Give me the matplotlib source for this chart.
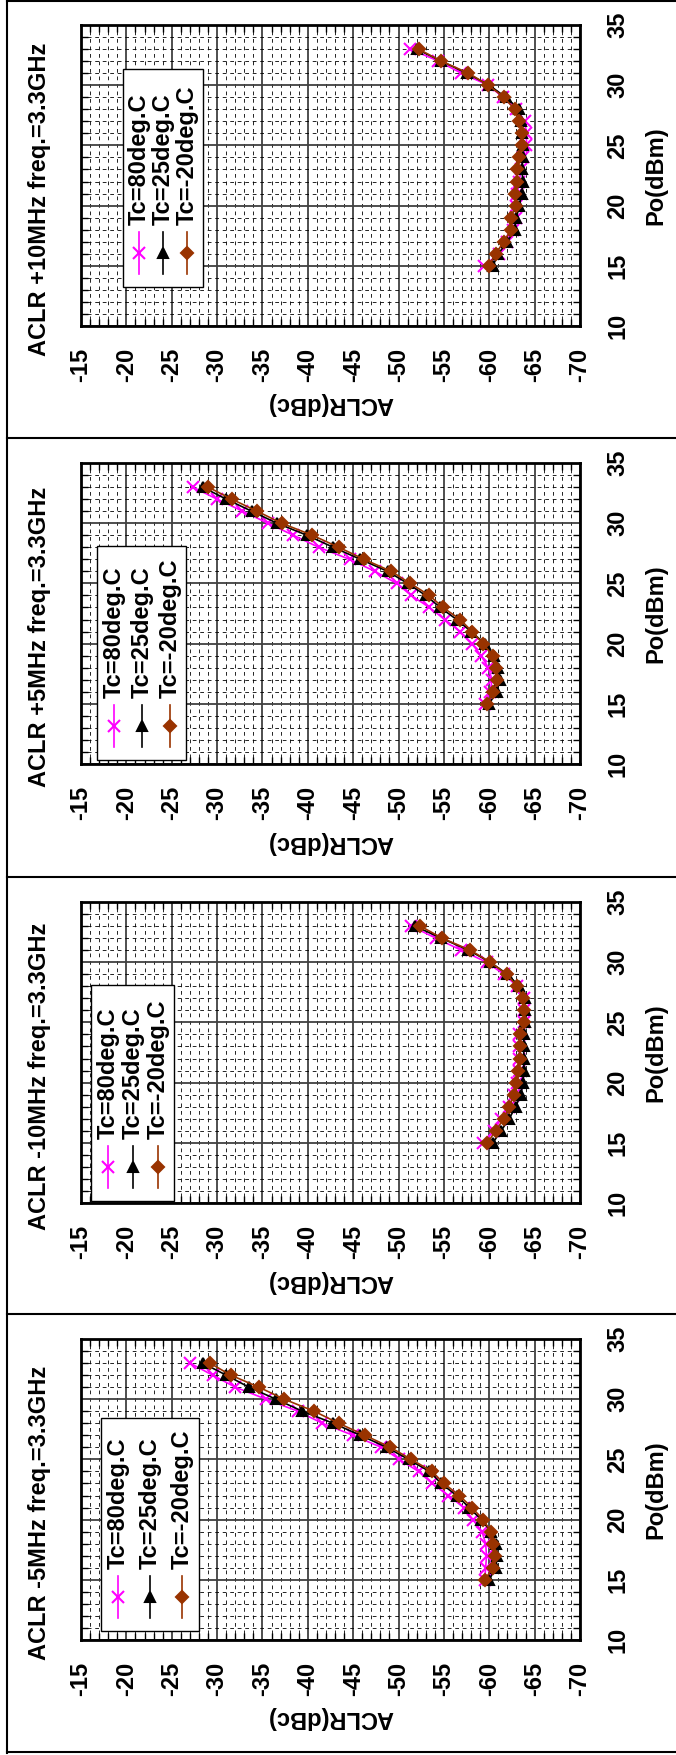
import matplotlib
matplotlib.use('Agg')
import matplotlib.pyplot as plt
from matplotlib.lines import Line2D
from matplotlib.patches import Rectangle
from matplotlib.ticker import MultipleLocator

plt.rcParams['font.family'] = ['Liberation Sans', 'DejaVu Sans']
plt.rcParams['font.weight'] = 'bold'
plt.rcParams['axes.unicode_minus'] = False

# Output power (dBm), same for every curve
po = [15, 16, 17, 18, 19, 20, 21, 22, 23, 24, 25, 26, 27, 28, 29, 30, 31, 32, 33]

titles = ['ACLR +10MHz freq.=3.3GHz', 'ACLR +5MHz freq.=3.3GHz',
          'ACLR -10MHz freq.=3.3GHz', 'ACLR -5MHz freq.=3.3GHz']
series_names = ['Tc=80deg.C', 'Tc=25deg.C', 'Tc=-20deg.C']

# ACLR (dBc) per panel, per temperature
p10_t80 = [-59.4, -61.1, -61.9, -62.6, -63.0, -63.0, -63.1, -63.3, -63.5, -63.7,
           -64.1, -64.1, -63.9, -63.0, -61.5, -59.9, -56.9, -54.4, -51.3]
p10_t25 = [-60.4, -61.0, -62.0, -62.8, -63.0, -63.3, -63.6, -63.7, -63.6, -63.7,
           -63.7, -63.6, -63.5, -63.3, -61.8, -60.0, -57.5, -54.7, -52.0]
p10_tm20 = [-60.0, -60.7, -61.6, -62.4, -62.4, -62.9, -62.8, -63.1, -63.1, -63.3,
            -63.6, -63.6, -63.3, -62.8, -61.6, -59.9, -57.7, -54.7, -52.2]

p5_t80 = [-59.5, -60.1, -60.3, -59.9, -59.1, -58.1, -56.8, -55.1, -53.4, -51.4,
          -49.8, -47.4, -44.6, -41.2, -38.4, -35.6, -32.8, -30.0, -27.3]
p5_t25 = [-60.0, -60.8, -61.2, -61.0, -60.5, -59.5, -58.0, -56.4, -54.6, -53.0,
          -51.0, -48.8, -45.8, -42.8, -39.9, -36.6, -33.8, -31.0, -28.4]
p5_tm20 = [-59.8, -60.4, -60.9, -60.7, -60.4, -59.3, -58.1, -56.8, -54.9, -53.4,
           -51.3, -49.2, -46.2, -43.4, -40.5, -37.1, -34.4, -31.6, -29.0]

m10_t80 = [-59.3, -60.5, -61.3, -62.2, -62.7, -63.1, -63.3, -63.3, -63.3, -63.3,
           -63.8, -63.8, -63.8, -63.1, -61.6, -59.7, -56.9, -54.1, -51.4]
m10_t25 = [-60.4, -61.3, -62.2, -62.9, -63.5, -63.7, -63.8, -63.8, -63.8, -63.8,
           -63.9, -63.9, -63.9, -63.3, -62.0, -60.1, -57.7, -54.7, -51.8]
m10_tm20 = [-59.8, -60.7, -61.6, -62.2, -62.7, -63.0, -63.2, -63.4, -63.4, -63.4,
            -63.8, -63.8, -63.7, -63.1, -61.9, -60.1, -57.9, -54.8, -52.4]

m5_t80 = [-59.5, -59.6, -59.7, -59.6, -59.2, -58.2, -57.2, -55.5, -53.7, -52.2,
          -50.1, -48.1, -45.0, -41.6, -38.9, -35.4, -32.0, -29.5, -27.0]
m5_t25 = [-60.0, -60.7, -60.9, -60.7, -60.2, -59.1, -57.8, -56.4, -54.7, -53.4,
          -51.1, -48.7, -45.8, -42.8, -39.4, -36.5, -33.5, -31.0, -28.4]
m5_tm20 = [-59.5, -60.4, -60.6, -60.4, -60.2, -59.3, -58.1, -56.7, -55.0, -53.7,
           -51.4, -49.1, -46.3, -43.4, -40.7, -37.4, -34.6, -31.5, -29.2]

panel_data = [[p10_t80, p10_t25, p10_tm20],
              [p5_t80, p5_t25, p5_tm20],
              [m10_t80, m10_t25, m10_tm20],
              [m5_t80, m5_t25, m5_tm20]]

aclr_ticks = [-15, -20, -25, -30, -35, -40, -45, -50, -55, -60, -65, -70]
po_ticks = [10, 15, 20, 25, 30, 35]

colors = ['#FF00FF', 'black', '#993300']
markers = ['x', '^', 'D']
msizes = [9, 7, 6.5]

# layout in pixels (figure is drawn upright, each chart turned a quarter turn)
W, H = 676, 1755
panel_top = [0, 438, 877, 1314]
PL, PR, PT, PB = 81, 580, 25, 326
legend_boxes = [(123, 203, 69, 287, [139, 163, 187]),
                (97, 186, 108, 322, [114, 142, 170]),
                (91, 174, 108, 324, [108, 133, 158]),
                (101, 199, 104, 317, [118, 150, 182])]
FS = 17

fig = plt.figure(figsize=(W / 100, H / 100), dpi=100)


def ax_xy(x, y):
    return (x - PL) / (PR - PL), (PB - y) / (PB - PT)


for i in range(4):
    top = panel_top[i]
    ax = fig.add_axes([PL / W, 1 - (top + PB) / H, (PR - PL) / W, (PB - PT) / H])
    for k in range(3):
        ax.plot(panel_data[i][k], po, color=colors[k], marker=markers[k],
                ms=msizes[k], lw=1.2, mew=1.5, zorder=3 + k)
    ax.set_xlim(-15, -70)
    ax.set_ylim(10, 35)
    ax.set_xticks(aclr_ticks)
    ax.set_yticks(po_ticks)
    ax.xaxis.set_minor_locator(MultipleLocator(1))
    ax.yaxis.set_minor_locator(MultipleLocator(1))
    ax.set_axisbelow(True)
    ax.grid(which='major', color='#404040', lw=1.3)
    ax.grid(which='minor', color='black', lw=0.6, linestyle=(1.5, (4.5, 4.5)))
    ax.tick_params(which='major', length=0)
    ax.tick_params(axis='x', which='major', pad=15.5, labelrotation=90, labelsize=FS)
    ax.tick_params(axis='y', which='major', pad=19, labelrotation=90, labelsize=FS,
                   left=False, labelleft=False, right=True, labelright=True)
    ax.tick_params(which='minor', direction='in', length=5, width=1,
                   top=True, bottom=True, left=True, right=True)
    for t in ax.yaxis.get_major_ticks():
        t.label2.set_va('center')
    for s in ax.spines.values():
        s.set_linewidth(2)

    ax.text(*ax_xy(40, 199), titles[i], transform=ax.transAxes, rotation=90,
            ha='center', va='center', fontsize=FS, fontweight='bold')
    ax.text(*ax_xy(656, 176), 'Po(dBm)', transform=ax.transAxes, rotation=90,
            ha='center', va='center', fontsize=FS, fontweight='bold')
    ax.text(*ax_xy(330, 404), 'ACLR(dBc)', transform=ax.transAxes, rotation=180,
            ha='center', va='center', fontsize=FS, fontweight='bold', clip_on=False)

    # hand-made legend, turned like the rest of the chart
    x0, x1, y0, y1, cols = legend_boxes[i]
    bx, by = ax_xy(x0, y1)
    bw = (x1 - x0) / (PR - PL)
    bh = (y1 - y0) / (PB - PT)
    ax.add_patch(Rectangle((bx, by), bw, bh, transform=ax.transAxes,
                           facecolor='white', edgecolor='black', lw=1, zorder=10))
    for k in range(3):
        cx = cols[k]
        lx, ly_a = ax_xy(cx, y1 - 13)
        _, ly_b = ax_xy(cx, y1 - 55)
        ax.add_line(Line2D([lx, lx], [ly_a, ly_b], transform=ax.transAxes,
                           color=colors[k], lw=1.2, zorder=11))
        _, my = ax_xy(cx, y1 - 34)
        ax.add_line(Line2D([lx], [my], transform=ax.transAxes, color=colors[k],
                           marker=markers[k], ms=msizes[k], mew=1.5, zorder=12))
        _, ty = ax_xy(cx, y1 - 62)
        ax.text(lx, ty, series_names[k], transform=ax.transAxes, rotation=90,
                ha='center', va='bottom', fontsize=FS, fontweight='bold', zorder=12)

# outer frame and separators
def fig_line(xa, ya, xb, yb):
    fig.add_artist(Line2D([xa / W, xb / W], [1 - ya / H, 1 - yb / H],
                          transform=fig.transFigure, color='black', lw=1.5))


fig_line(7, 1, W, 1)
fig_line(7, 0, 7, 1753)
for y in [438, 877, 1314, 1752]:
    fig_line(7, y, W, y)

fig.savefig('out.png', dpi=100)
